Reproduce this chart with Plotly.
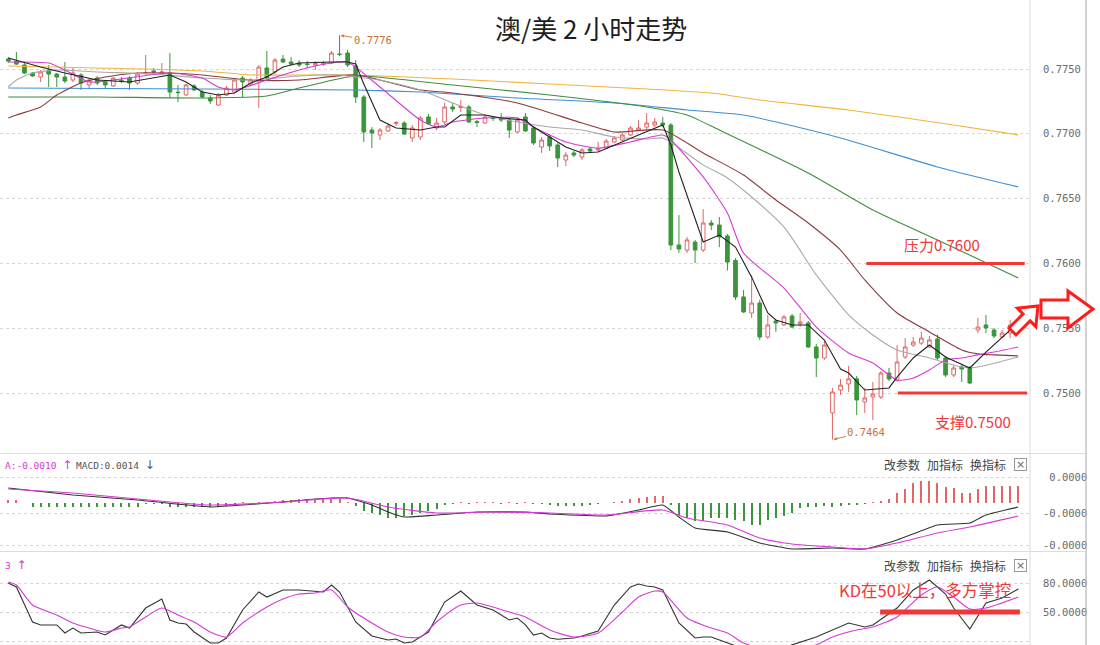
import plotly.graph_objects as go

# ---------------- data ----------------
opens = [
    0.77577, 0.77561, 0.77531, 0.77469, 0.77438, 0.77492, 0.77461, 0.77438, 0.77415, 0.77454,
    0.77377, 0.77430, 0.77400, 0.77369, 0.77415, 0.77430, 0.77392, 0.77465, 0.77485, 0.77469,
    0.77469, 0.77322, 0.77300, 0.77369, 0.77322, 0.77276, 0.77222, 0.77299, 0.77322, 0.77430,
    0.77384, 0.77400, 0.77508, 0.77477, 0.77577, 0.77554, 0.77546, 0.77538, 0.77531, 0.77538,
    0.77546, 0.77616, 0.77623, 0.77523, 0.77284, 0.77029, 0.76991, 0.77022, 0.77079, 0.77083,
    0.76968, 0.76975, 0.77130, 0.77045, 0.77091, 0.77207, 0.77203, 0.77207, 0.77095, 0.77083,
    0.77122, 0.77122, 0.77106, 0.77014, 0.77130, 0.77045, 0.76898, 0.76975, 0.76914, 0.76798,
    0.76852, 0.76821, 0.76883, 0.76875, 0.76890, 0.76937, 0.76952, 0.76991, 0.77029, 0.77052,
    0.77068, 0.77083, 0.77068, 0.76142, 0.76103, 0.76165, 0.76103, 0.76312, 0.76296, 0.76212,
    0.76023, 0.75741, 0.75617, 0.75694, 0.75432, 0.75556, 0.75525, 0.75594, 0.75533, 0.75540,
    0.75355, 0.75270, 0.74846, 0.75023, 0.75070, 0.75109, 0.74931, 0.74969, 0.74969, 0.75154,
    0.75100, 0.75278, 0.75370, 0.75385, 0.75355, 0.75417, 0.75270, 0.75139, 0.75201, 0.75193,
    0.75486, 0.75525, 0.75486, 0.75432, 0.75463, 0.75533]
highs = [
    0.77592, 0.77632, 0.77546, 0.77477, 0.77492, 0.77531, 0.77469, 0.77554, 0.77508, 0.77469,
    0.77430, 0.77446, 0.77415, 0.77438, 0.77438, 0.77446, 0.77477, 0.77608, 0.77508, 0.77546,
    0.77623, 0.77377, 0.77384, 0.77384, 0.77338, 0.77299, 0.77315, 0.77369, 0.77430, 0.77446,
    0.77430, 0.77531, 0.77639, 0.77585, 0.77608, 0.77592, 0.77569, 0.77562, 0.77562, 0.77562,
    0.77639, 0.77760, 0.77647, 0.77569, 0.77299, 0.77052, 0.77045, 0.77076, 0.77099, 0.77099,
    0.77068, 0.77137, 0.77153, 0.77122, 0.77238, 0.77238, 0.77261, 0.77222, 0.77106, 0.77145,
    0.77137, 0.77160, 0.77122, 0.77130, 0.77160, 0.77060, 0.76975, 0.76998, 0.76929, 0.76859,
    0.76867, 0.76890, 0.76898, 0.76937, 0.76960, 0.76983, 0.77006, 0.77060, 0.77106, 0.77160,
    0.77122, 0.77130, 0.77083, 0.76373, 0.76204, 0.76181, 0.76419, 0.76335, 0.76358, 0.76227,
    0.76041, 0.75795, 0.75910, 0.75718, 0.75602, 0.75564, 0.75602, 0.75610, 0.75617, 0.75556,
    0.75378, 0.75409, 0.75039, 0.75108, 0.75209, 0.75132, 0.75039, 0.75085, 0.75170, 0.75193,
    0.75370, 0.75424, 0.75432, 0.75471, 0.75440, 0.75448, 0.75286, 0.75216, 0.75216, 0.75209,
    0.75579, 0.75602, 0.75502, 0.75486, 0.75563, 0.75563]
lows = [
    0.77546, 0.77531, 0.77461, 0.77438, 0.77400, 0.77361, 0.77361, 0.77392, 0.77400, 0.77338,
    0.77353, 0.77377, 0.77353, 0.77361, 0.77392, 0.77338, 0.77377, 0.77454, 0.77461, 0.77454,
    0.77276, 0.77245, 0.77292, 0.77330, 0.77276, 0.77230, 0.77215, 0.77292, 0.77315, 0.77284,
    0.77369, 0.77199, 0.77415, 0.77461, 0.77546, 0.77531, 0.77515, 0.77508, 0.77492, 0.77523,
    0.77538, 0.77600, 0.77515, 0.77238, 0.76936, 0.76890, 0.76952, 0.77014, 0.77060, 0.76991,
    0.76937, 0.76952, 0.77068, 0.77029, 0.77076, 0.77168, 0.77168, 0.77083, 0.77052, 0.77076,
    0.77099, 0.77091, 0.76968, 0.77006, 0.77014, 0.76914, 0.76852, 0.76867, 0.76744, 0.76751,
    0.76821, 0.76798, 0.76852, 0.76860, 0.76883, 0.76929, 0.76944, 0.76983, 0.77022, 0.77029,
    0.77052, 0.77052, 0.76103, 0.76080, 0.76080, 0.76003, 0.76088, 0.76258, 0.76126, 0.75944,
    0.75718, 0.75617, 0.75579, 0.75409, 0.75417, 0.75471, 0.75517, 0.75502, 0.75509, 0.75347,
    0.75123, 0.75255, 0.74640, 0.74985, 0.75008, 0.74830, 0.74846, 0.74792, 0.74954, 0.75093,
    0.75085, 0.75263, 0.75355, 0.75370, 0.75347, 0.75255, 0.75123, 0.75123, 0.75085, 0.75069,
    0.75463, 0.75463, 0.75424, 0.75424, 0.75424, 0.75517]
closes = [
    0.77561, 0.77538, 0.77469, 0.77446, 0.77477, 0.77461, 0.77438, 0.77407, 0.77469, 0.77392,
    0.77415, 0.77392, 0.77377, 0.77430, 0.77411, 0.77392, 0.77461, 0.77473, 0.77477, 0.77477,
    0.77322, 0.77318, 0.77377, 0.77338, 0.77284, 0.77253, 0.77299, 0.77353, 0.77415, 0.77400,
    0.77415, 0.77515, 0.77430, 0.77569, 0.77554, 0.77538, 0.77531, 0.77535, 0.77542, 0.77546,
    0.77623, 0.77612, 0.77531, 0.77284, 0.77014, 0.77006, 0.77029, 0.77060, 0.77087, 0.76998,
    0.77045, 0.77122, 0.77076, 0.77083, 0.77207, 0.77191, 0.77211, 0.77091, 0.77087, 0.77130,
    0.77118, 0.77106, 0.77029, 0.77106, 0.77022, 0.76929, 0.76952, 0.76906, 0.76813, 0.76836,
    0.76836, 0.76875, 0.76867, 0.76883, 0.76944, 0.76968, 0.76991, 0.77045, 0.77045, 0.77083,
    0.77091, 0.77068, 0.76142, 0.76111, 0.76181, 0.76103, 0.76312, 0.76296, 0.76204, 0.76010,
    0.75741, 0.75625, 0.75694, 0.75432, 0.75525, 0.75540, 0.75587, 0.75509, 0.75548, 0.75355,
    0.75270, 0.75370, 0.75008, 0.75061, 0.75109, 0.74946, 0.74962, 0.74992, 0.75154, 0.75108,
    0.75239, 0.75355, 0.75393, 0.75424, 0.75409, 0.75270, 0.75139, 0.75193, 0.75185, 0.75077,
    0.75509, 0.75502, 0.75440, 0.75463, 0.75525, 0.75540]
bar_index = list(range(len(closes)))

# moving averages, read at sampled bars
ma5_idx = [0, 4, 7, 11, 15, 18, 20, 22, 24, 26, 28, 30, 32, 34, 36, 40, 42, 43, 44, 46,
           48, 51, 53, 54, 56, 59, 61, 64, 65, 69, 71, 73, 75, 78, 81, 82, 83, 84, 86, 88,
           90, 92, 94, 95, 97, 99, 101, 103, 104, 106, 109, 110, 112, 114, 116, 119, 121, 124, 125]
ma5_val = [0.77585, 0.77515, 0.77469, 0.77415, 0.77400, 0.77430, 0.77454, 0.77400, 0.77322, 0.77299,
           0.77315, 0.77392, 0.77438, 0.77515, 0.77546, 0.77554, 0.77554, 0.77538, 0.77384, 0.77106,
           0.77045, 0.77029, 0.77052, 0.77052, 0.77145, 0.77145, 0.77122, 0.77106, 0.77052, 0.76898,
           0.76852, 0.76860, 0.76914, 0.76991, 0.77068, 0.76914, 0.76705, 0.76520, 0.76165, 0.76219,
           0.76126, 0.75894, 0.75617, 0.75563, 0.75525, 0.75525, 0.75409, 0.75185, 0.75154, 0.75023,
           0.75039, 0.75123, 0.75270, 0.75370, 0.75278, 0.75193, 0.75316, 0.75486, 0.75494]
ma10_idx = [0, 5, 7, 10, 13, 20, 24, 26, 28, 32, 36, 40, 42, 46, 51, 53, 55, 59, 63, 65,
            69, 73, 77, 81, 82, 86, 89, 91, 96, 100, 104, 107, 110, 112, 114, 116, 118, 120, 122, 125]
ma10_val = [0.77554, 0.77546, 0.77492, 0.77400, 0.77415, 0.77469, 0.77430, 0.77361, 0.77338, 0.77415,
            0.77492, 0.77546, 0.77554, 0.77361, 0.77106, 0.77052, 0.77091, 0.77122, 0.77122, 0.77052,
            0.76937, 0.76890, 0.76937, 0.76991, 0.76952, 0.76667, 0.76389, 0.76080, 0.75810, 0.75509,
            0.75309, 0.75231, 0.75100, 0.75116, 0.75178, 0.75255, 0.75270, 0.75294, 0.75316, 0.75355]
ma20_idx = [0, 1, 3, 6, 11, 18, 24, 30, 36, 41, 43, 46, 51, 55, 59, 63, 67, 71, 75, 79,
            81, 82, 86, 89, 92, 96, 100, 104, 107, 110, 114, 118, 120, 125]
ma20_val = [0.77361, 0.77415, 0.77469, 0.77492, 0.77477, 0.77461, 0.77430, 0.77415, 0.77446, 0.77454,
            0.77438, 0.77415, 0.77338, 0.77238, 0.77145, 0.77091, 0.77052, 0.77029, 0.76975, 0.76960,
            0.76968, 0.76937, 0.76760, 0.76659, 0.76512, 0.76281, 0.75911, 0.75603, 0.75448, 0.75332,
            0.75270, 0.75201, 0.75201, 0.75278]
ma30_idx = [0, 1, 4, 6, 9, 12, 16, 20, 24, 30, 36, 43, 51, 55, 63, 71, 75, 81, 86, 91,
            95, 99, 103, 106, 110, 114, 118, 120, 122, 125]
ma30_val = [0.77122, 0.77145, 0.77207, 0.77299, 0.77392, 0.77438, 0.77469, 0.77469, 0.77454, 0.77415,
            0.77415, 0.77454, 0.77338, 0.77315, 0.77238, 0.77083, 0.77014, 0.77029, 0.76852, 0.76682,
            0.76489, 0.76312, 0.76103, 0.75872, 0.75617, 0.75471, 0.75332, 0.75302, 0.75294, 0.75286]
ma60_idx = [0, 11, 24, 32, 36, 42, 44, 55, 67, 79, 84, 88, 99, 107, 115, 125]
ma60_val = [0.77284, 0.77284, 0.77276, 0.77292, 0.77353, 0.77438, 0.77446, 0.77377, 0.77299, 0.77207,
            0.77145, 0.77029, 0.76698, 0.76412, 0.76181, 0.75888]
ma120_idx = [0, 24, 43, 51, 63, 75, 84, 91, 103, 115, 125]
ma120_val = [0.77353, 0.77346, 0.77338, 0.77322, 0.77276, 0.77238, 0.77184, 0.77145, 0.76968, 0.76744,
             0.76590]
ma250_idx = [0, 11, 24, 30, 42, 55, 67, 79, 87, 93, 104, 117, 125]
ma250_val = [0.77523, 0.77508, 0.77485, 0.77454, 0.77454, 0.77423, 0.77384, 0.77346, 0.77315, 0.77261,
             0.77184, 0.77068, 0.76991]

# MACD
macd_hist = [
    0.00024, 0.00024, 0.0,
    -0.00032, -0.00032, -0.00032, -0.00032, -0.00032, -0.00032, -0.00032,
    -0.00032, -0.00032, -0.00032, -0.00032, -0.00032, -0.00032, -0.00032,
    -0.00008, -0.00008, -0.00008,
    -0.00032, -0.00032, -0.00032, -0.00032, -0.00032, -0.00032, -0.00032,
    -0.00024,
    -0.00008, 0.00008, -0.00008, 0.00008, 0.00008,
    0.00016, 0.00024, 0.00024, 0.00032, 0.00032, 0.00032, 0.0004, 0.0004, 0.00032, 0.00008,
    -0.00024, -0.00064, -0.0008, -0.00096, -0.0012, -0.0012, -0.00104, -0.00096, -0.0008, -0.00064, -0.00048,
    -0.00016, -0.00008, 0.00008, -0.00008, 0.00008, 0.00008, 0.00008, -0.00008, 0.00008, -0.00008,
    0.00008, -0.00008, -0.00008, -0.00016,
    -0.00024, -0.00024, -0.00024, -0.00024, -0.00016, -0.00008, 0.0,
    0.00008, 0.00016, 0.00032, 0.0004, 0.00048, 0.00056, 0.00056,
    -0.00016, -0.00096, -0.0012, -0.00144, -0.00144, -0.0012, -0.0012, -0.0012, -0.00136, -0.00144,
    -0.00176, -0.00176, -0.00136, -0.0012, -0.00104, -0.0008, -0.0004, -0.00032, -0.00032, -0.00024,
    -0.00032, -0.00024, -0.00016, -0.00016, -0.00008, 0.00008,
    0.00016, 0.00032, 0.0008, 0.00112, 0.0016, 0.00176, 0.00176, 0.0016, 0.00128, 0.0012,
    0.0008, 0.0008, 0.00112, 0.00136, 0.00136, 0.00136, 0.00136, 0.00136]
dif_idx = [0, 8, 16, 25, 29, 34, 38, 42, 45, 47, 49, 53, 58, 64, 67, 74, 78, 81, 83, 85,
           89, 93, 97, 102, 106, 110, 115, 119, 121, 125]
dif_val = [0.0012, 0.00064, 0.00024, -0.00032, -0.00016, 0.00008, 0.00032, 0.0004, -0.00016, -0.00072,
           -0.00112, -0.00096, -0.00072, -0.00072, -0.00088, -0.00104, -0.00056, -0.00016, -0.00112, -0.002,
           -0.00232, -0.0032, -0.00368, -0.0036, -0.00368, -0.00296, -0.00176, -0.0016, -0.00096, -0.00032]
dea_idx = [0, 8, 16, 25, 34, 42, 47, 53, 60, 67, 74, 81, 84, 89, 93, 97, 102, 106, 110, 115,
           119, 125]
dea_val = [0.00112, 0.0008, 0.00032, -0.00016, 0.00008, 0.0004, -0.00032, -0.0008, -0.00072, -0.0008,
           -0.00096, -0.00056, -0.0012, -0.00176, -0.0028, -0.00328, -0.00352, -0.00368, -0.0032, -0.0024,
           -0.00192, -0.00104]

# KD
k_idx = [0, 1, 3, 4, 6, 7, 8, 9, 11, 12, 14, 15, 17, 19, 20, 21, 22, 23, 25, 26,
         27, 29, 31, 32, 34, 36, 39, 40, 41, 43, 45, 47, 48, 49, 50, 52, 54, 56, 58, 60,
         62, 63, 64, 65, 66, 67, 68, 70, 71, 73, 75, 77, 78, 79, 80, 81, 83, 85, 86, 87,
         90, 92, 94, 96, 97, 100, 104, 106, 107, 110, 112, 114, 116, 117, 119, 121, 123, 125]
k_val = [80.0, 75.9, 39.7, 36.6, 36.6, 28.3, 33.4, 28.3, 29.3, 26.2,
         36.6, 33.4, 54.1, 63.4, 41.7, 38.6, 37.6, 29.3, 17.9, 17.9,
         23.1, 52.1, 70.7, 65.5, 72.8, 72.8, 70.7, 77.9, 70.7, 39.7,
         25.2, 21.0, 22.1, 17.9, 19.0, 29.3, 60.3, 71.7, 57.2, 52.1,
         41.7, 43.8, 36.6, 26.2, 28.3, 23.1, 21.8, 23.1, 25.2, 30.3,
         57.2, 75.9, 79.0, 76.9, 75.9, 72.8, 38.6, 23.1, 24.1, 24.1,
         15.0, 10.0, 9.0, 12.0, 16.0, 24.1, 38.6, 34.5, 36.6, 54.1,
         72.8, 83.1, 68.6, 54.1, 32.4, 59.3, 64.5, 73.8]
d_idx = [0, 1, 3, 6, 8, 10, 12, 14, 15, 17, 19, 21, 23, 25, 27, 29, 32, 34, 36, 38,
         40, 42, 45, 47, 49, 51, 53, 56, 58, 62, 64, 67, 70, 73, 76, 78, 80, 81, 84, 87,
         89, 91, 93, 95, 97, 100, 102, 105, 107, 110, 113, 115, 117, 119, 121, 125]
d_val = [81.0, 77.9, 57.2, 46.9, 38.6, 33.4, 29.3, 33.4, 34.5, 44.8,
         54.1, 46.9, 39.7, 29.3, 24.1, 38.6, 55.2, 63.4, 68.6, 69.7,
         72.8, 55.2, 38.6, 29.3, 24.1, 24.1, 39.7, 57.2, 59.3, 50.0,
         44.8, 31.4, 24.1, 28.3, 50.0, 65.5, 71.7, 70.7, 43.8, 33.4,
         28.3, 17.9, 13.0, 11.0, 12.0, 15.9, 24.1, 31.4, 34.5, 44.8,
         67.6, 75.9, 65.5, 53.1, 54.1, 65.5]

price_ticks = [0.7500, 0.7550, 0.7600, 0.7650, 0.7700, 0.7750]
price_ticktext = ["0.7500", "0.7550", "0.7600", "0.7650", "0.7700", "0.7750"]
macd_ticks = [0.00208, -0.0008, -0.00336]
macd_ticktext = [" 0.0000", "-0.0000", "-0.0000"]
kd_ticks = [20, 50, 80]
kd_ticktext = ["20.0000", "50.0000", "80.0000"]

high_mark = (41, 0.7776)
low_mark = (102, 0.7464)
resistance = 0.7600
support = 0.7500
kd_level = 50

# ---------------- style / layout ----------------
W, H = 1100, 645
UP = "#e06767"
DOWN = "#3b953b"
RED = "#f03838"
MAG = "#d63ad6"
X_LO, X_HI = -1.027, 126.45
PLOT_R = 1030


def px(xp, yp):
    return xp / W, 1 - yp / H


fig = go.Figure()
fig.add_trace(go.Candlestick(
    x=bar_index, open=opens, high=highs, low=lows, close=closes,
    increasing=dict(line=dict(color=UP, width=1), fillcolor="white"),
    decreasing=dict(line=dict(color=DOWN, width=1), fillcolor=DOWN),
    whiskerwidth=0, xaxis="x", yaxis="y", showlegend=False, hoverinfo="skip"))

for idx, val, col, shape in [
    (ma250_idx, ma250_val, "#f1b43c", "spline"),
    (ma120_idx, ma120_val, "#3f8fd2", "spline"),
    (ma60_idx, ma60_val, "#3e8e3e", "spline"),
    (ma30_idx, ma30_val, "#8c3b3b", "spline"),
    (ma20_idx, ma20_val, "#a9a9a9", "spline"),
    (ma10_idx, ma10_val, MAG, "spline"),
    (ma5_idx, ma5_val, "#222222", "linear"),
]:
    fig.add_trace(go.Scatter(x=idx, y=val, mode="lines", xaxis="x", yaxis="y",
                             line=dict(color=col, width=1.1, shape=shape, smoothing=0.6),
                             showlegend=False, hoverinfo="skip"))

fig.add_trace(go.Bar(x=bar_index, y=macd_hist, width=0.13, xaxis="x2", yaxis="y2",
                     marker=dict(color=[UP if v > 0 else DOWN for v in macd_hist], line=dict(width=0)),
                     showlegend=False, hoverinfo="skip"))
fig.add_trace(go.Scatter(x=dif_idx, y=dif_val, mode="lines", xaxis="x2", yaxis="y2",
                         line=dict(color="#333333", width=1.1, shape="spline", smoothing=0.4),
                         showlegend=False, hoverinfo="skip"))
fig.add_trace(go.Scatter(x=dea_idx, y=dea_val, mode="lines", xaxis="x2", yaxis="y2",
                         line=dict(color=MAG, width=1.1, shape="spline", smoothing=0.6),
                         showlegend=False, hoverinfo="skip"))
fig.add_trace(go.Scatter(x=k_idx, y=k_val, mode="lines", xaxis="x3", yaxis="y3",
                         line=dict(color="#333333", width=1.1),
                         showlegend=False, hoverinfo="skip"))
fig.add_trace(go.Scatter(x=d_idx, y=d_val, mode="lines", xaxis="x3", yaxis="y3",
                         line=dict(color=MAG, width=1.1, shape="spline", smoothing=0.6),
                         showlegend=False, hoverinfo="skip"))

xa = dict(range=[X_LO, X_HI], domain=[0, PLOT_R / W], showgrid=False, zeroline=False,
          showticklabels=False, ticks="", showline=False, fixedrange=True)
tickfont = dict(family="DejaVu Sans Mono", size=10.5, color="#6a6a6a")
ya = dict(side="right", showgrid=True, gridcolor="#d6d6d6", griddash="dot", gridwidth=1,
          zeroline=False, ticks="", showline=False, tickfont=tickfont, ticklabelstandoff=12,
          fixedrange=True)

fig.update_layout(
    width=W, height=H, margin=dict(l=0, r=0, t=0, b=0),
    paper_bgcolor="white", plot_bgcolor="white", showlegend=False, boxgap=0.35,
    xaxis=dict(**xa, anchor="y", rangeslider=dict(visible=False)),
    xaxis2=dict(**xa, anchor="y2"),
    xaxis3=dict(**xa, anchor="y3"),
    yaxis=dict(**ya, domain=[1 - 453 / H, 1 - 8 / H], range=[0.745370, 0.779707],
               tickvals=price_ticks, ticktext=price_ticktext),
    yaxis2=dict(**ya, domain=[1 - 551 / H, 1 - 455 / H], range=[-0.00384, 0.00384],
                tickvals=macd_ticks, ticktext=macd_ticktext),
    yaxis3=dict(**ya, domain=[0, 1 - 553 / H], range=[15.86, 111.04],
                tickvals=kd_ticks, ticktext=kd_ticktext),
)

shapes = []
# frame lines
for xline, col in [(PLOT_R, "#e2e2e2"), (1086, "#b5b5b5")]:
    x0, _ = px(xline, 0)
    shapes.append(dict(type="line", xref="paper", yref="paper", x0=x0, x1=x0, y0=0, y1=1,
                       line=dict(color=col, width=1.2)))
for yline in [453.5, 551.5]:
    _, y0 = px(0, yline)
    shapes.append(dict(type="line", xref="paper", yref="paper", x0=0, x1=1086 / W, y0=y0, y1=y0,
                       line=dict(color="#dcdcdc", width=1)))
# red level lines
shapes.append(dict(type="line", xref="x", yref="y", x0=106.2, x1=125.8, y0=resistance, y1=resistance,
                   line=dict(color=RED, width=3)))
shapes.append(dict(type="line", xref="x", yref="y", x0=110.1, x1=126.1, y0=support, y1=support,
                   line=dict(color=RED, width=3)))
shapes.append(dict(type="line", xref="x3", yref="y3", x0=107.9, x1=125.2, y0=kd_level, y1=kd_level,
                   line=dict(color=RED, width=5)))


def path(points):
    s = ""
    for i, (xp_, yp_) in enumerate(points):
        a, b = px(xp_, yp_)
        s += ("M" if i == 0 else "L") + f"{a:.5f},{b:.5f} "
    return s + "Z"


arrow_ne = [(1009, 328), (1023.1, 313.9), (1017.4, 308.2), (1038, 306), (1035.8, 326.6),
            (1030.1, 320.9), (1016, 335)]
arrow_e = [(1041, 300), (1068, 300), (1068, 291), (1093, 309), (1068, 328), (1068, 318), (1041, 318)]
for pts in (arrow_ne, arrow_e):
    shapes.append(dict(type="path", xref="paper", yref="paper", path=path(pts),
                       line=dict(color="#ff1c1c", width=3), fillcolor="white"))
fig.update_layout(shapes=shapes)

ann = []


def text_px(x, y, t, size, color, family="Noto Sans CJK SC", xanchor="center"):
    a, b = px(x, y)
    ann.append(dict(xref="paper", yref="paper", x=a, y=b, text=t, showarrow=False,
                    xanchor=xanchor, yanchor="middle", font=dict(family=family, size=size, color=color)))


ARW = "<span style='font-family:DejaVu Sans;font-size:12px'>{}</span>"
text_px(591, 28, "澳/美 2 小时走势", 26, "#1e1e1e")
text_px(942, 244, "压力0.7600", 15, RED)
text_px(973, 421, "支撑0.7500", 15, RED)
text_px(925, 590, "KD在50以上，多方掌控", 16.5, RED)
text_px(3, 465, "A:-0.0010 " + ARW.format("↑"), 9.5, MAG, family="DejaVu Sans Mono", xanchor="left")
text_px(74, 465, "MACD:0.0014 " + ARW.format("↓"), 9.5, "#555555", family="DejaVu Sans Mono", xanchor="left")
text_px(3, 565, "3 " + ARW.format("↑"), 9.5, MAG, family="DejaVu Sans Mono", xanchor="left")
for yy in (465, 565):
    text_px(902, yy, "改参数", 12, "#444444")
    text_px(945, yy, "加指标", 12, "#444444")
    text_px(988, yy, "换指标", 12, "#444444")
    a, b = px(1020, yy)
    ann.append(dict(xref="paper", yref="paper", x=a, y=b, text="×", showarrow=False,
                    xanchor="center", yanchor="middle", width=11, height=11,
                    bordercolor="#999999", borderwidth=1, borderpad=0,
                    font=dict(family="DejaVu Sans", size=11, color="#666666")))

for (mx, my), ax, ay in [(high_mark, 33, 5), (low_mark, 34, -8)]:
    ann.append(dict(xref="x", yref="y", x=mx, y=my, text=f"{my:.4f}", showarrow=True,
                    ax=ax, ay=ay, arrowhead=2, arrowsize=0.7, arrowwidth=1, arrowcolor="#d2813e",
                    standoff=1, font=dict(family="DejaVu Sans Mono", size=10.5, color="#c87133")))
fig.update_layout(annotations=ann)

fig.write_html("out.html", config={"displayModeBar": False},
               post_script="document.body.style.margin='0';")
